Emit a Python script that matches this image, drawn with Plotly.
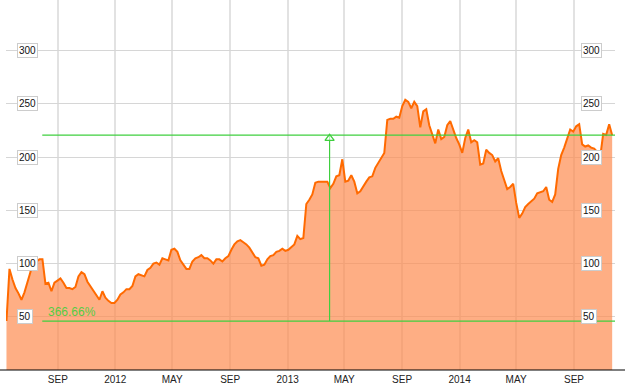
import pandas as pd
import plotly.graph_objects as go

# ---- data ----
start_date = "2011-05-15"
end_date = "2014-11-21"
values = [
    46, 95, 85, 77, 72, 66, 73, 82, 92, 105,
    102, 104, 104, 81, 82, 74, 82, 84, 86, 82,
    77, 77, 76, 78, 88, 92, 90, 83, 79, 75,
    71, 66, 74, 68, 65, 63, 63, 66, 71, 73,
    76, 76, 79, 88, 90, 89, 88, 94, 96, 100,
    101, 99, 105, 104, 103, 113, 114, 111, 103, 99,
    95, 95, 102, 105, 106, 108, 105, 105, 103, 100,
    104, 104, 102, 105, 107, 113, 118, 121, 122, 120,
    118, 115, 110, 106, 105, 98, 99, 104, 107, 108,
    111, 112, 114, 112, 113, 116, 118, 126, 123, 124,
    156, 160, 165, 176, 177, 177, 177, 177, 171, 175,
    182, 183, 198, 177, 178, 183, 177, 166, 168, 173,
    177, 181, 182, 190, 195, 199, 204, 235, 236, 236,
    238, 237, 248, 254, 252, 246, 252, 248, 228, 243,
    245, 230, 221, 213, 226, 217, 219, 230, 234, 225,
    218, 212, 204, 218, 226, 214, 216, 214, 193, 194,
    207, 204, 202, 196, 199, 187, 178, 170, 172, 175,
    157, 143, 147, 153, 156, 159, 161, 166, 167, 168,
    172, 160, 158, 165, 189, 202, 209, 218, 226, 224,
    229, 231, 212, 210, 211, 209, 208, 205, 200, 222,
    221, 231, 220.7,
]
dates = pd.date_range(start=start_date, end=end_date, periods=len(values))

x_tick_vals = ["2011-09-01", "2012-01-01", "2012-05-01", "2012-09-01", "2013-01-01",
               "2013-05-01", "2013-09-01", "2014-01-01", "2014-05-01", "2014-09-01"]
x_tick_text = ["SEP", "2012", "MAY", "SEP", "2013", "MAY", "SEP", "2014", "MAY", "SEP"]
y_tick_vals = [50, 100, 150, 200, 250, 300]

# measurement overlay
low_level = 46
high_level = 220.7
measure_start = "2011-07-30"
measure_x = "2013-03-31"
measure_label = "366.66%"

x_range = ["2011-05-14", "2014-11-27"]
y_range = [0, 347.7]

W, H = 625, 387
L, R, T, B = 6, 10, 0, 17
green = "#3fcf3f"

fig = go.Figure()
fig.add_trace(go.Scatter(
    x=dates, y=values, mode="lines",
    line=dict(color="#ff6a00", width=2),
    fill="tozeroy", fillcolor="rgba(253,140,80,0.7)",
    hoverinfo="skip", showlegend=False,
))
# vertical measure line with open arrow head
fig.add_trace(go.Scatter(
    x=[measure_x, measure_x], y=[low_level, high_level], mode="lines",
    line=dict(color=green, width=1.2), hoverinfo="skip", showlegend=False,
))
fig.add_trace(go.Scatter(
    x=[measure_x], y=[high_level - 3], mode="markers",
    marker=dict(symbol="triangle-up", size=8, color="rgba(255,255,255,0.6)",
                line=dict(color=green, width=1.3)),
    hoverinfo="skip", showlegend=False,
))

shapes = [
    dict(type="line", xref="x", yref="y", x0=measure_start, x1=x_range[1],
         y0=high_level, y1=high_level, line=dict(color=green, width=1.2), layer="above"),
    dict(type="line", xref="x", yref="y", x0=measure_start, x1=x_range[1],
         y0=low_level, y1=low_level, line=dict(color=green, width=1.2), layer="above"),
    dict(type="line", xref="paper", yref="paper", x0=-L / (W - L - R), x1=1 + R / (W - L - R),
         y0=0, y1=0, line=dict(color="#000000", width=1), layer="above"),
]

annotations = [
    dict(x=measure_start, y=low_level, xref="x", yref="y", text=measure_label,
         xanchor="left", yanchor="bottom", xshift=4, yshift=0, showarrow=False,
         font=dict(family="Liberation Sans, Arial", size=12, color="#55cc44")),
]
pw = W - L - R
for v in y_tick_vals:
    for px in (16.5, 581):
        annotations.append(dict(
            x=(px - L) / pw, y=v, xref="paper", yref="y", text=str(v),
            xanchor="left", yanchor="middle", showarrow=False,
            bgcolor="#ffffff", bordercolor="#cccccc", borderwidth=1, borderpad=1,
            font=dict(family="Liberation Sans, Arial", size=10, color="#111111"),
        ))

fig.update_layout(
    width=W, height=H,
    margin=dict(l=L, r=R, t=T, b=B),
    paper_bgcolor="#ffffff", plot_bgcolor="#ffffff",
    shapes=shapes, annotations=annotations,
    xaxis=dict(
        type="date", range=x_range, tickvals=x_tick_vals, ticktext=x_tick_text,
        showgrid=True, gridcolor="#e2e2e2", gridwidth=2, zeroline=False,
        showline=False, ticks="", ticklabelstandoff=2,
        tickfont=dict(family="Liberation Sans, Arial", size=10, color="#222222"),
    ),
    yaxis=dict(
        range=y_range, tickvals=y_tick_vals, showticklabels=False,
        showgrid=True, gridcolor="#d6d6d6", gridwidth=1, zeroline=False, showline=False,
    ),
)

fig.write_html("out.html")
